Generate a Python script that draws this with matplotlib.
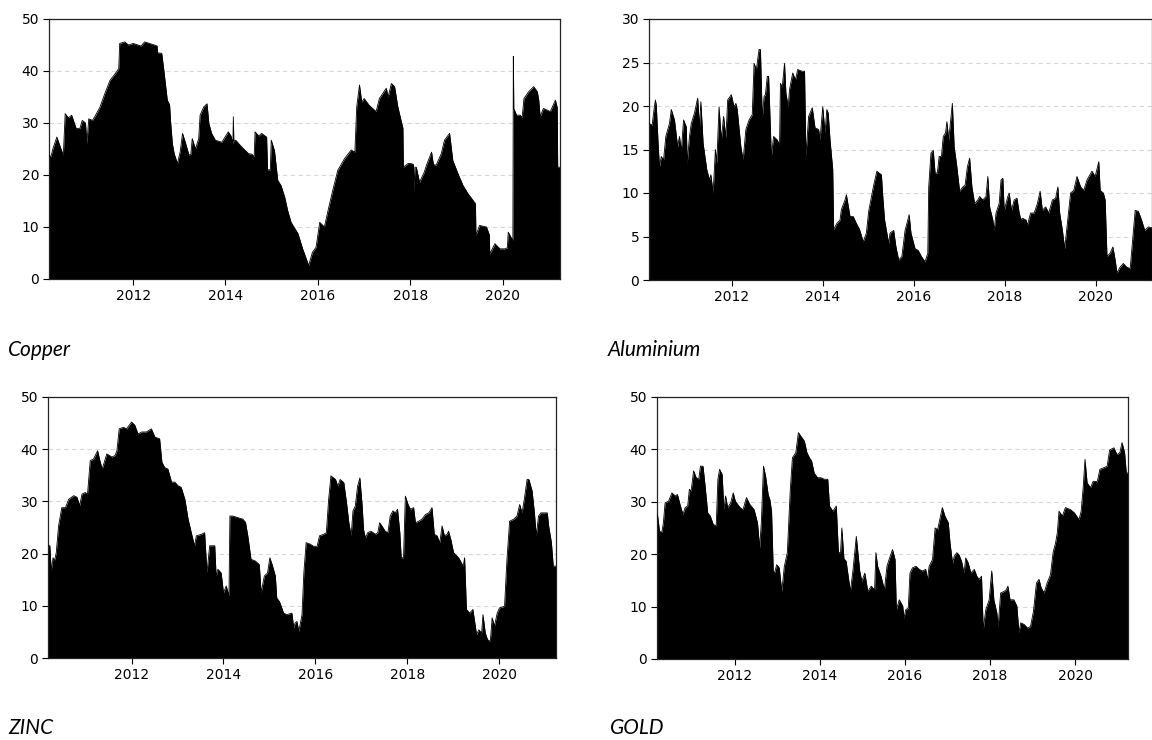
import matplotlib
matplotlib.use("Agg")
import matplotlib.pyplot as plt
import numpy as np

# (decimal year, value) pairs
copper = [
    (2010.18, 23.8), (2010.22, 23.5), (2010.27, 25.2), (2010.35, 27.3), (2010.42, 25.5), (2010.49, 23.8),
    (2010.53, 31.8), (2010.60, 31.0), (2010.67, 31.5), (2010.77, 28.9), (2010.85, 29.0), (2010.90, 30.5),
    (2010.97, 30.0), (2011.00, 26.0), (2011.04, 30.8), (2011.12, 30.5), (2011.17, 31.2), (2011.28, 33.0),
    (2011.39, 35.7), (2011.50, 38.2), (2011.64, 39.8), (2011.69, 40.5), (2011.71, 45.3), (2011.82, 45.6),
    (2011.90, 45.0), (2012.00, 45.3), (2012.17, 44.8), (2012.25, 45.6), (2012.32, 45.4), (2012.46, 45.0),
    (2012.52, 44.8), (2012.53, 43.5), (2012.62, 43.4), (2012.67, 39.8), (2012.74, 34.4), (2012.79, 33.5),
    (2012.81, 30.5), (2012.85, 26.0), (2012.89, 24.1), (2012.96, 22.2), (2013.02, 24.5), (2013.07, 28.0),
    (2013.14, 26.0), (2013.21, 23.8), (2013.25, 24.0), (2013.28, 27.0), (2013.35, 25.0), (2013.42, 27.0),
    (2013.45, 31.5), (2013.53, 33.1), (2013.60, 33.7), (2013.64, 29.9), (2013.70, 28.0), (2013.78, 26.7),
    (2013.92, 26.3), (2014.06, 28.3), (2014.12, 27.5), (2014.16, 26.0), (2014.17, 31.2), (2014.18, 26.5),
    (2014.22, 26.7), (2014.35, 25.4), (2014.50, 24.1), (2014.57, 24.0), (2014.62, 23.5), (2014.64, 28.3),
    (2014.72, 27.5), (2014.78, 28.0), (2014.89, 27.3), (2014.91, 21.0), (2014.97, 21.0), (2014.99, 26.7),
    (2015.06, 24.7), (2015.13, 19.0), (2015.20, 18.0), (2015.28, 15.8), (2015.35, 13.0), (2015.42, 10.9),
    (2015.57, 8.7), (2015.67, 5.8), (2015.80, 2.6), (2015.88, 5.1), (2015.96, 6.1), (2016.04, 10.9),
    (2016.14, 10.0), (2016.22, 13.2), (2016.32, 17.0), (2016.43, 20.9), (2016.58, 23.2), (2016.72, 24.8),
    (2016.80, 24.4), (2016.84, 33.1), (2016.90, 37.3), (2016.95, 34.0), (2017.00, 34.7), (2017.11, 33.4),
    (2017.26, 32.2), (2017.33, 34.7), (2017.48, 36.7), (2017.52, 35.0), (2017.59, 37.6), (2017.66, 37.0),
    (2017.73, 33.1), (2017.80, 30.5), (2017.84, 29.0), (2017.85, 21.5), (2017.95, 22.2), (2018.02, 22.2),
    (2018.07, 22.0), (2018.08, 16.7), (2018.10, 21.5), (2018.13, 21.5), (2018.20, 18.6), (2018.30, 20.5),
    (2018.35, 21.9), (2018.46, 24.4), (2018.50, 22.0), (2018.56, 21.9), (2018.67, 24.1), (2018.74, 26.7),
    (2018.85, 28.0), (2018.92, 22.8), (2019.03, 20.3), (2019.14, 18.0), (2019.25, 16.4), (2019.36, 15.1),
    (2019.41, 14.5), (2019.42, 8.4), (2019.50, 10.3), (2019.65, 10.0), (2019.71, 8.5), (2019.72, 4.8),
    (2019.83, 6.8), (2019.94, 5.8), (2020.05, 5.8), (2020.10, 6.0), (2020.12, 9.0), (2020.20, 7.7),
    (2020.22, 7.5), (2020.23, 42.8), (2020.24, 32.8), (2020.30, 31.5), (2020.38, 31.5), (2020.42, 31.0),
    (2020.46, 34.7), (2020.56, 36.0), (2020.67, 37.0), (2020.75, 36.0), (2020.78, 34.4), (2020.81, 31.2),
    (2020.88, 32.8), (2021.03, 32.2), (2021.14, 34.4), (2021.18, 33.0), (2021.19, 21.5), (2021.24, 21.5),
]

aluminium = [
    (2010.18, 18.0), (2010.25, 17.8), (2010.28, 19.2), (2010.32, 20.7), (2010.34, 20.1), (2010.38, 15.7),
    (2010.41, 13.0), (2010.45, 14.2), (2010.50, 13.8), (2010.55, 16.5), (2010.63, 18.0), (2010.67, 19.6),
    (2010.74, 18.4), (2010.81, 15.3), (2010.85, 16.5), (2010.89, 14.8), (2010.94, 18.4), (2011.00, 17.6),
    (2011.02, 13.4), (2011.07, 16.5), (2011.11, 18.0), (2011.18, 19.2), (2011.25, 20.9), (2011.29, 17.6),
    (2011.32, 20.5), (2011.37, 15.7), (2011.45, 12.7), (2011.51, 11.5), (2011.54, 12.1), (2011.59, 10.0),
    (2011.64, 15.0), (2011.67, 13.4), (2011.72, 19.9), (2011.77, 16.1), (2011.82, 18.8), (2011.87, 16.3),
    (2011.91, 20.7), (2011.99, 21.3), (2012.05, 19.9), (2012.09, 20.3), (2012.12, 19.6), (2012.20, 15.3),
    (2012.25, 13.8), (2012.31, 17.3), (2012.38, 18.4), (2012.45, 19.0), (2012.49, 24.9), (2012.54, 24.2),
    (2012.60, 26.5), (2012.63, 26.5), (2012.67, 18.6), (2012.71, 21.1), (2012.74, 21.3), (2012.78, 23.4),
    (2012.81, 23.4), (2012.87, 14.2), (2012.92, 16.5), (2013.00, 16.1), (2013.05, 15.5), (2013.07, 22.6),
    (2013.11, 22.2), (2013.16, 24.9), (2013.19, 21.5), (2013.24, 19.9), (2013.27, 21.9), (2013.34, 23.8),
    (2013.40, 23.0), (2013.45, 24.2), (2013.54, 24.0), (2013.60, 24.0), (2013.63, 14.2), (2013.69, 18.8),
    (2013.77, 19.8), (2013.83, 17.5), (2013.91, 17.3), (2013.94, 16.1), (2014.00, 19.9), (2014.05, 16.9),
    (2014.09, 19.6), (2014.12, 19.2), (2014.16, 16.1), (2014.22, 12.7), (2014.24, 5.8), (2014.31, 6.5),
    (2014.38, 6.9), (2014.41, 8.1), (2014.49, 9.2), (2014.52, 9.8), (2014.60, 7.3), (2014.67, 7.3),
    (2014.74, 6.5), (2014.81, 5.8), (2014.89, 4.4), (2014.96, 5.4), (2015.01, 7.9), (2015.12, 10.9),
    (2015.19, 12.5), (2015.29, 12.1), (2015.32, 9.6), (2015.36, 6.9), (2015.45, 4.2), (2015.48, 5.4),
    (2015.56, 5.7), (2015.61, 3.8), (2015.67, 2.3), (2015.74, 2.7), (2015.81, 5.7), (2015.90, 7.5),
    (2015.94, 5.4), (2016.03, 3.6), (2016.10, 3.4), (2016.17, 2.7), (2016.25, 2.1), (2016.31, 3.1),
    (2016.33, 10.7), (2016.38, 14.6), (2016.43, 14.9), (2016.47, 12.3), (2016.52, 12.3), (2016.56, 14.2),
    (2016.61, 14.2), (2016.65, 16.5), (2016.70, 16.9), (2016.73, 18.2), (2016.77, 16.1), (2016.81, 18.2),
    (2016.85, 20.3), (2016.89, 15.3), (2016.94, 13.4), (2017.01, 10.2), (2017.08, 10.7), (2017.13, 10.9),
    (2017.18, 13.0), (2017.23, 14.0), (2017.28, 10.7), (2017.34, 8.8), (2017.41, 9.2), (2017.45, 9.6),
    (2017.52, 9.2), (2017.59, 9.6), (2017.63, 11.9), (2017.67, 8.4), (2017.74, 6.9), (2017.77, 5.7),
    (2017.81, 7.7), (2017.88, 8.8), (2017.92, 11.5), (2017.96, 11.7), (2017.99, 8.0), (2018.07, 9.6),
    (2018.10, 10.0), (2018.15, 8.0), (2018.21, 9.2), (2018.27, 9.4), (2018.32, 7.7), (2018.36, 6.9),
    (2018.39, 7.1), (2018.47, 6.9), (2018.50, 6.3), (2018.57, 7.7), (2018.65, 7.7), (2018.72, 8.8),
    (2018.78, 10.2), (2018.83, 8.0), (2018.90, 8.4), (2018.97, 7.7), (2019.05, 9.2), (2019.12, 9.4),
    (2019.17, 10.7), (2019.21, 7.7), (2019.27, 5.7), (2019.32, 3.6), (2019.37, 6.1), (2019.45, 10.0),
    (2019.52, 10.3), (2019.59, 11.9), (2019.67, 10.7), (2019.74, 10.3), (2019.81, 11.5), (2019.92, 12.5),
    (2019.99, 11.9), (2020.07, 13.6), (2020.10, 10.3), (2020.17, 10.0), (2020.21, 9.2), (2020.25, 2.7),
    (2020.32, 3.1), (2020.38, 3.8), (2020.43, 2.3), (2020.47, 0.8), (2020.54, 1.5), (2020.61, 1.9),
    (2020.68, 1.5), (2020.76, 1.3), (2020.79, 3.1), (2020.87, 8.0), (2020.94, 7.9), (2021.01, 6.9),
    (2021.08, 5.7), (2021.16, 6.1), (2021.24, 6.0),
]

zinc = [
    (2010.18, 21.5), (2010.22, 21.5), (2010.25, 16.7), (2010.29, 19.2), (2010.32, 18.6), (2010.36, 20.2),
    (2010.41, 25.3), (2010.48, 28.8), (2010.56, 28.8), (2010.63, 30.4), (2010.74, 31.1), (2010.81, 30.8),
    (2010.87, 29.2), (2010.92, 31.4), (2010.99, 31.7), (2011.04, 31.4), (2011.10, 37.8), (2011.17, 38.1),
    (2011.26, 39.7), (2011.31, 37.8), (2011.36, 36.2), (2011.46, 39.1), (2011.57, 38.5), (2011.64, 38.8),
    (2011.68, 39.7), (2011.73, 43.9), (2011.82, 44.2), (2011.89, 43.9), (2012.00, 45.2), (2012.07, 44.6),
    (2012.14, 42.9), (2012.22, 43.3), (2012.32, 43.3), (2012.43, 43.9), (2012.51, 42.3), (2012.61, 42.0),
    (2012.66, 37.5), (2012.72, 36.5), (2012.79, 36.2), (2012.87, 33.7), (2012.94, 33.7), (2013.01, 33.0),
    (2013.08, 32.7), (2013.16, 30.4), (2013.23, 26.6), (2013.30, 24.0), (2013.37, 21.5), (2013.41, 23.4),
    (2013.52, 23.7), (2013.59, 24.0), (2013.64, 16.3), (2013.70, 21.5), (2013.81, 21.5), (2013.84, 15.7),
    (2013.88, 17.0), (2013.95, 16.3), (2014.00, 12.5), (2014.06, 13.8), (2014.12, 11.9), (2014.14, 27.2),
    (2014.20, 27.2), (2014.31, 26.9), (2014.42, 26.6), (2014.48, 26.0), (2014.53, 23.4), (2014.60, 18.9),
    (2014.69, 18.6), (2014.78, 17.9), (2014.82, 12.5), (2014.89, 15.7), (2014.96, 16.3), (2015.01, 19.2),
    (2015.07, 17.6), (2015.13, 15.7), (2015.16, 11.5), (2015.22, 10.8), (2015.31, 8.6), (2015.38, 8.3),
    (2015.49, 8.6), (2015.53, 5.8), (2015.56, 6.7), (2015.60, 7.0), (2015.64, 5.1), (2015.71, 8.3),
    (2015.75, 16.3), (2015.80, 22.1), (2015.89, 21.8), (2015.96, 21.4), (2016.04, 21.4), (2016.09, 23.4),
    (2016.18, 23.7), (2016.24, 24.0), (2016.29, 30.4), (2016.34, 34.9), (2016.44, 34.2), (2016.49, 32.9),
    (2016.54, 34.2), (2016.62, 33.6), (2016.68, 29.7), (2016.73, 25.9), (2016.78, 23.4), (2016.82, 28.2),
    (2016.87, 29.1), (2016.92, 32.9), (2016.97, 34.5), (2017.02, 29.1), (2017.05, 24.6), (2017.09, 23.0),
    (2017.14, 24.0), (2017.21, 24.3), (2017.31, 23.7), (2017.36, 24.0), (2017.40, 25.9), (2017.45, 25.3),
    (2017.52, 24.3), (2017.58, 24.0), (2017.63, 27.2), (2017.69, 28.2), (2017.74, 27.8), (2017.79, 28.5),
    (2017.84, 24.0), (2017.87, 19.2), (2017.92, 19.2), (2017.96, 31.0), (2018.02, 29.4), (2018.07, 28.5),
    (2018.14, 28.8), (2018.18, 25.9), (2018.25, 26.2), (2018.32, 26.6), (2018.40, 27.5), (2018.47, 27.8),
    (2018.54, 28.8), (2018.59, 23.7), (2018.65, 23.4), (2018.71, 22.1), (2018.76, 25.3), (2018.81, 23.4),
    (2018.87, 23.7), (2018.90, 24.3), (2018.95, 22.7), (2019.01, 20.2), (2019.12, 19.2), (2019.22, 17.6),
    (2019.25, 19.2), (2019.29, 9.3), (2019.36, 8.6), (2019.43, 9.3), (2019.51, 4.5), (2019.56, 5.4),
    (2019.62, 4.8), (2019.65, 8.3), (2019.70, 4.8), (2019.75, 3.5), (2019.81, 3.2), (2019.85, 7.7),
    (2019.90, 6.1), (2019.96, 8.6), (2020.01, 9.6), (2020.12, 9.9), (2020.17, 18.6), (2020.23, 26.2),
    (2020.32, 26.6), (2020.39, 27.2), (2020.45, 29.4), (2020.50, 27.8), (2020.55, 30.4), (2020.61, 34.2),
    (2020.65, 34.2), (2020.72, 32.0), (2020.77, 27.8), (2020.81, 23.4), (2020.86, 27.2), (2020.91, 27.8),
    (2021.05, 27.8), (2021.08, 25.3), (2021.14, 22.1), (2021.18, 17.6), (2021.24, 17.6),
]

gold = [
    (2010.18, 27.6), (2010.19, 27.6), (2010.24, 24.4), (2010.29, 24.1), (2010.33, 26.0), (2010.37, 29.8),
    (2010.45, 30.1), (2010.53, 31.7), (2010.61, 31.1), (2010.66, 31.4), (2010.72, 29.5), (2010.79, 27.6),
    (2010.84, 28.9), (2010.90, 29.2), (2010.94, 32.4), (2010.98, 32.0), (2011.04, 35.9), (2011.10, 34.6),
    (2011.16, 34.3), (2011.20, 36.8), (2011.26, 36.8), (2011.31, 33.0), (2011.37, 27.9), (2011.43, 27.3),
    (2011.50, 25.7), (2011.57, 25.4), (2011.61, 34.3), (2011.65, 36.2), (2011.71, 35.2), (2011.75, 28.5),
    (2011.79, 31.1), (2011.84, 28.9), (2011.91, 29.8), (2011.97, 31.7), (2012.02, 30.1), (2012.13, 28.9),
    (2012.20, 28.5), (2012.28, 30.8), (2012.36, 29.5), (2012.46, 28.5), (2012.54, 26.0), (2012.59, 21.2),
    (2012.63, 26.0), (2012.68, 36.8), (2012.73, 34.9), (2012.79, 31.4), (2012.83, 30.4), (2012.87, 28.2),
    (2012.91, 16.8), (2012.94, 16.4), (2012.99, 18.0), (2013.05, 17.4), (2013.11, 12.9), (2013.17, 17.7),
    (2013.24, 20.3), (2013.31, 32.4), (2013.36, 38.4), (2013.44, 39.4), (2013.50, 43.2), (2013.56, 42.5),
    (2013.64, 41.6), (2013.70, 39.4), (2013.76, 38.4), (2013.81, 37.8), (2013.87, 35.5), (2013.95, 34.6),
    (2014.03, 34.6), (2014.11, 34.3), (2014.19, 34.3), (2014.23, 29.2), (2014.31, 28.2), (2014.39, 29.2),
    (2014.44, 20.3), (2014.49, 20.3), (2014.52, 25.0), (2014.57, 19.1), (2014.62, 18.7), (2014.68, 15.2),
    (2014.72, 12.9), (2014.78, 16.8), (2014.86, 23.4), (2014.94, 16.8), (2014.99, 14.8), (2015.06, 16.4),
    (2015.13, 12.9), (2015.21, 13.9), (2015.29, 13.2), (2015.32, 20.3), (2015.36, 17.7), (2015.44, 15.8),
    (2015.52, 13.2), (2015.58, 17.7), (2015.63, 19.0), (2015.71, 20.9), (2015.77, 19.0), (2015.80, 9.4),
    (2015.87, 11.3), (2015.95, 10.1), (2015.98, 7.8), (2016.02, 9.4), (2016.08, 9.7), (2016.12, 16.4),
    (2016.18, 17.4), (2016.26, 17.7), (2016.34, 17.1), (2016.41, 16.8), (2016.49, 17.1), (2016.53, 15.2),
    (2016.57, 17.7), (2016.65, 19.0), (2016.71, 25.0), (2016.77, 24.7), (2016.82, 26.6), (2016.88, 28.9),
    (2016.94, 27.3), (2017.02, 26.0), (2017.06, 22.2), (2017.12, 18.3), (2017.16, 19.6), (2017.22, 20.3),
    (2017.27, 19.9), (2017.33, 18.7), (2017.39, 16.4), (2017.43, 19.3), (2017.49, 18.3), (2017.55, 16.4),
    (2017.63, 17.1), (2017.69, 15.8), (2017.74, 15.2), (2017.80, 15.8), (2017.84, 5.6), (2017.90, 9.4),
    (2017.98, 11.3), (2018.04, 16.8), (2018.09, 11.3), (2018.16, 8.8), (2018.19, 6.2), (2018.25, 12.6),
    (2018.33, 12.9), (2018.38, 13.2), (2018.42, 13.9), (2018.47, 11.3), (2018.56, 11.3), (2018.63, 10.1),
    (2018.68, 5.0), (2018.72, 6.9), (2018.80, 6.6), (2018.88, 5.9), (2018.95, 6.2), (2019.02, 9.1),
    (2019.09, 14.5), (2019.15, 15.2), (2019.20, 13.6), (2019.27, 12.6), (2019.34, 14.5), (2019.42, 16.1),
    (2019.48, 20.3), (2019.54, 22.2), (2019.58, 24.1), (2019.62, 28.2), (2019.70, 27.3), (2019.77, 28.9),
    (2019.89, 28.5), (2019.98, 27.9), (2020.09, 26.6), (2020.14, 28.2), (2020.19, 33.0), (2020.23, 38.1),
    (2020.28, 33.6), (2020.36, 32.7), (2020.42, 33.9), (2020.52, 33.9), (2020.58, 36.2), (2020.67, 36.5),
    (2020.75, 36.8), (2020.81, 39.9), (2020.91, 40.3), (2020.98, 39.0), (2021.05, 39.4), (2021.10, 41.3),
    (2021.16, 39.4), (2021.20, 35.5), (2021.24, 35.5),
]

names = ["Copper", "Aluminium", "ZINC", "GOLD"]
series = [copper, aluminium, zinc, gold]
y_max = [50, 30, 50, 50]
y_step = [10, 5, 10, 10]
year_ticks = [2012, 2014, 2016, 2018, 2020]
x_range = (2010.18, 2021.24)

W, H = 1152, 740
fig = plt.figure(figsize=(W / 100, H / 100), dpi=100)

# axes boxes in pixels: left, top, right, bottom
boxes = [(49, 19, 560, 279), (649, 19, 1152, 280), (48, 397, 556, 658), (657, 397, 1128, 659)]
label_pos = [(8, 350), (608, 350), (8, 728), (610, 728)]

for i in range(4):
    l, t, r, b = boxes[i]
    ax = fig.add_axes([l / W, 1 - b / H, (r - l) / W, (b - t) / H])
    x, y = zip(*series[i])
    x = np.array(x)
    y = np.array(y)
    ax.fill_between(x, 0, y, color="black", lw=0, zorder=2)
    ax.plot(x, y, color="black", lw=0.6, zorder=3)
    ax.set_xlim(*x_range)
    ax.set_ylim(0, y_max[i])
    ax.set_yticks(np.arange(0, y_max[i] + 1, y_step[i]))
    ax.set_xticks(year_ticks)
    ax.set_xticklabels([str(v) for v in year_ticks])
    ax.yaxis.grid(True, color="#d8d8d8", linestyle=(0, (4, 3)), lw=0.8, zorder=0)
    ax.set_axisbelow(True)
    for s in ax.spines.values():
        s.set_color("#222222")
        s.set_linewidth(0.9)
    ax.tick_params(direction="out", length=4, width=0.8, labelsize=10,
                   top=False, right=False, pad=3)
    for lab in ax.get_xticklabels() + ax.get_yticklabels():
        lab.set_fontfamily("DejaVu Sans")

    fig.text(label_pos[i][0] / W, 1 - label_pos[i][1] / H, names[i],
             fontfamily="Lato", style="italic", fontsize=15,
             ha="left", va="center")

fig.savefig("out.png", dpi=100)
